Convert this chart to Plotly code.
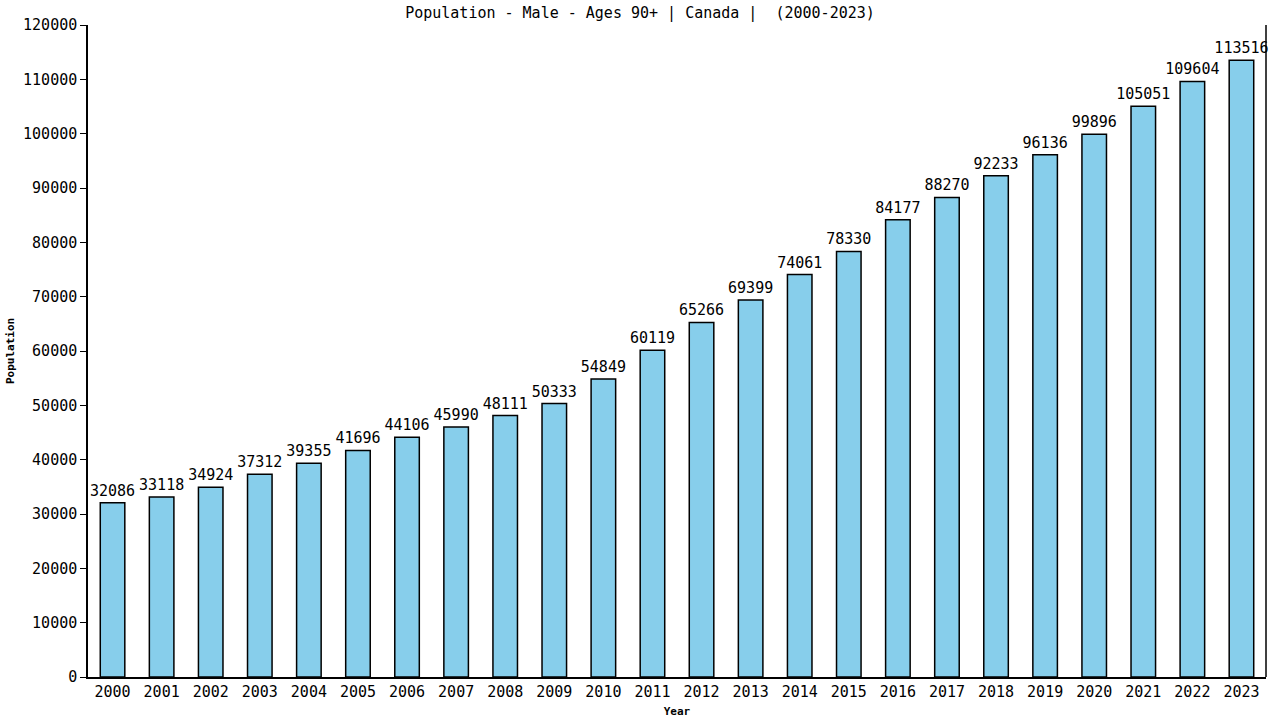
import plotly.graph_objs as go

years = [str(y) for y in range(2000, 2024)]
population = [32086, 33118, 34924, 37312, 39355, 41696, 44106, 45990, 48111, 50333,
              54849, 60119, 65266, 69399, 74061, 78330, 84177, 88270, 92233, 96136,
              99896, 105051, 109604, 113516]
y_ticks = list(range(0, 120001, 10000))

font_main = "DejaVu Sans Mono"

fig = go.Figure()

fig.add_trace(go.Bar(x=years, y=population, width=0.5,
                     marker=dict(color="#87CEEB", line=dict(color="black", width=1.5)),
                     text=[str(v) for v in population], textposition="outside",
                     constraintext="none",
                     textfont=dict(family=font_main, size=15, color="black"),
                     cliponaxis=False))

fig.update_layout(
    width=1280, height=720,
    margin=dict(l=88, r=14, t=25, b=43, autoexpand=False),
    plot_bgcolor="white", paper_bgcolor="white",
    showlegend=False,
    font=dict(family=font_main, size=15, color="black"),
    title=dict(text="Population - Male - Ages 90+ | Canada |  (2000-2023)",
               x=0.5, xanchor="center", y=0.982, yanchor="middle", automargin=False,
               font=dict(family=font_main, size=15, color="black")),
)

fig.update_xaxes(range=[-0.5, 23.5], showline=True, linecolor="black", linewidth=1.5,
                 mirror=False, ticks="", showgrid=False, automargin=False,
                 tickfont=dict(family=font_main, size=15),
                 title=dict(text="<b>Year</b>", font=dict(family=font_main, size=11), standoff=8))
fig.update_yaxes(range=[0, 120000], tickvals=y_ticks, tickformat="d", showline=True,
                 linecolor="black", automargin=False,
                 linewidth=1.5, ticks="outside", ticklen=6, tickcolor="black", showgrid=False,
                 zeroline=False, tickfont=dict(family=font_main, size=15),
                 title=dict(text="<b>Population</b>", font=dict(family=font_main, size=11), standoff=6))

# right border line
fig.add_shape(type="line", xref="paper", yref="paper", x0=1, x1=1, y0=0, y1=1,
              line=dict(color="black", width=1.5))

# drop the browser's default page margin so the figure fills the window
fig.write_html("out.html", config={"displayModeBar": False},
               post_script="document.body.style.margin='0';")
